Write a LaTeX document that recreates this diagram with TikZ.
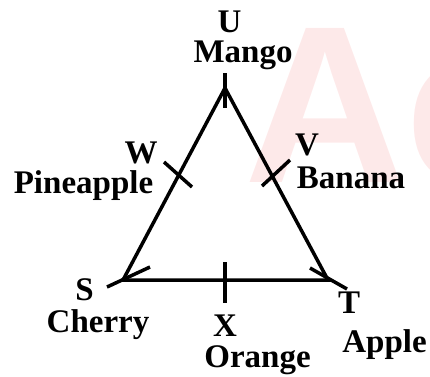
\documentclass[tikz,border=0pt]{standalone}
\usepackage{fontspec}
\setmainfont{Liberation Serif}
\newfontfamily\wmfont{Liberation Sans}
\definecolor{wmpink}{RGB}{253,233,233}
\begin{document}
\begin{tikzpicture}[x=1pt,y=-1pt,
  lbl/.style={font=\bfseries\fontsize{33}{36}\selectfont, anchor=base, inner sep=0pt},
  edge/.style={line width=3.5pt, line join=miter},
  tick/.style={line width=3.5pt, line cap=butt}]
\useasboundingbox (0,0) rectangle (430,376);
% watermark
\node[font=\wmfont\bfseries\fontsize{224}{224}\selectfont, text=wmpink, anchor=base west, inner sep=0pt] (wm) at (244,182) {Ac};
% vertices
\coordinate (U) at (225,88);
\coordinate (S) at (123,280);
\coordinate (T) at (328,280);
\draw[edge] (U) -- (S) -- (T) -- cycle;
% vertex marks
\coordinate (Uo) at (225,73); \coordinate (Ui) at (225,108);
\coordinate (So) at (107,287); \coordinate (Si) at (150,267);
\coordinate (To) at (347,289); \coordinate (Ti) at (310,268);
\draw[tick] (Uo) -- (Ui);
\draw[tick] (So) -- (Si);
\draw[tick] (To) -- (Ti);
% mid-side marks
\coordinate (W1) at (164,162); \coordinate (W2) at (192,187);
\coordinate (V1) at (262,186); \coordinate (V2) at (290,160);
\coordinate (X1) at (225,262); \coordinate (X2) at (225,303);
\draw[tick] (W1) -- (W2);
\draw[tick] (V1) -- (V2);
\draw[tick] (X1) -- (X2);
% labels
\node[lbl] (lU) at (229.5,32) {U};
\node[lbl] (lMango) at (243,62) {Mango};
\node[lbl] (lW) at (141,163) {W};
\node[lbl] (lPine) at (83.5,193) {Pineapple};
\node[lbl] (lV) at (307,155) {V};
\node[lbl] (lBan) at (351,188) {Banana};
\node[lbl] (lS) at (84.5,300) {S};
\node[lbl] (lCherry) at (98,332) {Cherry};
\node[lbl] (lX) at (225,336) {X};
\node[lbl] (lOrange) at (257.5,367) {Orange};
\node[lbl] (lT) at (349,313) {T};
\node[lbl] (lApple) at (384.5,352) {Apple};
\end{tikzpicture}
\end{document}
